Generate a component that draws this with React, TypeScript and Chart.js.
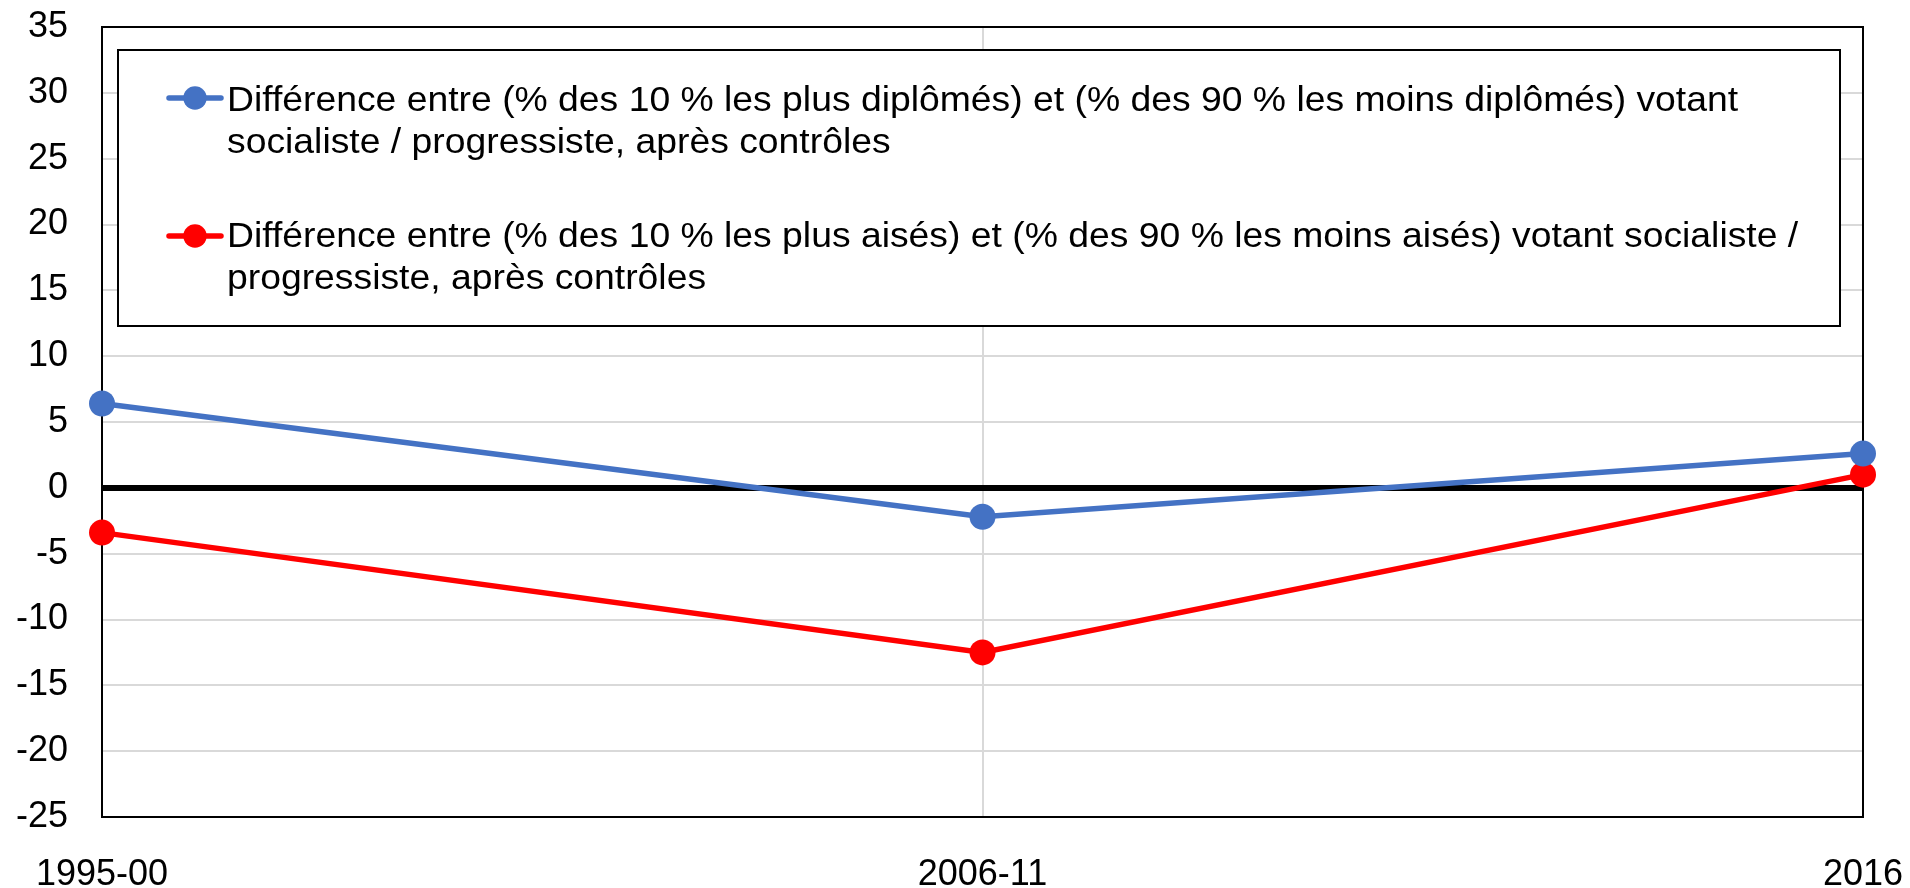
import React, { useEffect, useRef } from "react";
import { Chart, registerables } from "chart.js";
Chart.register(...registerables);

const categories = ["1995-00", "2006-11", "2016"];
const diplomaGap = [6.4, -2.2, 2.6];
const incomeGap = [-3.4, -12.5, 1.0];
const yMin = -25;
const yMax = 35;
const yStep = 5;
const diplomaLabelLines = [
  "Différence entre (% des 10 % les plus diplômés) et (% des 90 % les moins diplômés) votant",
  "socialiste / progressiste, après contrôles",
];
const incomeLabelLines = [
  "Différence entre (% des 10 % les plus aisés) et (% des 90 % les moins aisés) votant socialiste /",
  "progressiste, après contrôles",
];

const BLUE = "#4472C4";
const RED = "#FF0000";
const FONT = "'Liberation Sans', Arial, sans-serif";

const frameAndLegend = {
  id: "frameAndLegend",
  beforeDatasetsDraw(chart: any) {
    const { ctx, chartArea: a } = chart;
    ctx.save();
    ctx.strokeStyle = "#000";
    ctx.lineWidth = 2;
    ctx.strokeRect(a.left, a.top, a.right - a.left, a.bottom - a.top);
    ctx.restore();
  },
  afterDraw(chart: any) {
    const { ctx } = chart;
    const box = { x: 118, y: 50, w: 1722, h: 276 };
    ctx.save();
    ctx.fillStyle = "#fff";
    ctx.fillRect(box.x, box.y, box.w, box.h);
    ctx.strokeStyle = "#000";
    ctx.lineWidth = 2;
    ctx.strokeRect(box.x, box.y, box.w, box.h);
    const entries = [
      { color: BLUE, lines: chart.data.datasets[0].labelLines, cy: 98, base: 111 },
      { color: RED, lines: chart.data.datasets[1].labelLines, cy: 236, base: 247 },
    ];
    ctx.font = `35px ${FONT}`;
    ctx.textBaseline = "alphabetic";
    ctx.textAlign = "left";
    for (const e of entries) {
      ctx.strokeStyle = e.color;
      ctx.lineWidth = 5.5;
      ctx.lineCap = "round";
      ctx.beginPath();
      ctx.moveTo(169, e.cy);
      ctx.lineTo(221, e.cy);
      ctx.stroke();
      ctx.fillStyle = e.color;
      ctx.beginPath();
      ctx.arc(195, e.cy, 11.7, 0, Math.PI * 2);
      ctx.fill();
      ctx.fillStyle = "#000";
      e.lines.forEach((t: string, i: number) => {
        ctx.save();
        ctx.translate(227, e.base + i * 42);
        ctx.scale(1.066, 1);
        ctx.fillText(t, 0, 0);
        ctx.restore();
      });
    }
    ctx.restore();
  },
};

export default function App() {
  const ref = useRef<HTMLCanvasElement>(null);
  useEffect(() => {
    document.body.style.margin = "0";
    const canvas = ref.current!;
    const chart = new Chart(canvas, {
      type: "line",
      data: {
        labels: categories,
        datasets: [
          {
            label: diplomaLabelLines.join(" "),
            labelLines: diplomaLabelLines,
            data: diplomaGap,
            borderColor: BLUE,
            backgroundColor: BLUE,
            borderWidth: 5.5,
            pointRadius: 13,
            pointHoverRadius: 13,
            pointBorderWidth: 0,
            tension: 0,
            clip: false,
          } as any,
          {
            label: incomeLabelLines.join(" "),
            labelLines: incomeLabelLines,
            data: incomeGap,
            borderColor: RED,
            backgroundColor: RED,
            borderWidth: 5.5,
            pointRadius: 13,
            pointHoverRadius: 13,
            pointBorderWidth: 0,
            tension: 0,
            clip: false,
          } as any,
        ],
      },
      options: {
        responsive: false,
        animation: false,
        events: [],
        layout: { padding: { top: 27, right: 47, left: 0, bottom: 0 } },
        plugins: { legend: { display: false }, tooltip: { enabled: false } },
        scales: {
          x: {
            offset: false,
            grid: { color: "#d9d9d9", lineWidth: 2, drawTicks: false },
            border: { display: false },
            ticks: {
              color: "#000",
              font: { family: FONT, size: 36 },
              padding: 36,
              maxRotation: 0,
              autoSkip: false,
            },
            afterFit(scale: any) {
              scale.height = 71;
              scale.paddingLeft = 0;
              scale.paddingRight = 0;
            },
          },
          y: {
            min: yMin,
            max: yMax,
            grid: {
              color: (c: any) => (c.tick && c.tick.value === 0 ? "#000" : "#d9d9d9"),
              lineWidth: (c: any) => (c.tick && c.tick.value === 0 ? 6 : 2),
              drawTicks: false,
            },
            border: { display: false },
            ticks: {
              stepSize: yStep,
              color: "#000",
              font: { family: FONT, size: 36 },
              padding: 34,
            },
            afterFit(scale: any) {
              scale.width = 102;
              scale.paddingTop = 0;
              scale.paddingBottom = 0;
            },
          },
        },
      },
      plugins: [frameAndLegend],
    });
    return () => chart.destroy();
  }, []);
  return <canvas ref={ref} width={1910} height={888} style={{ display: "block" }} />;
}
